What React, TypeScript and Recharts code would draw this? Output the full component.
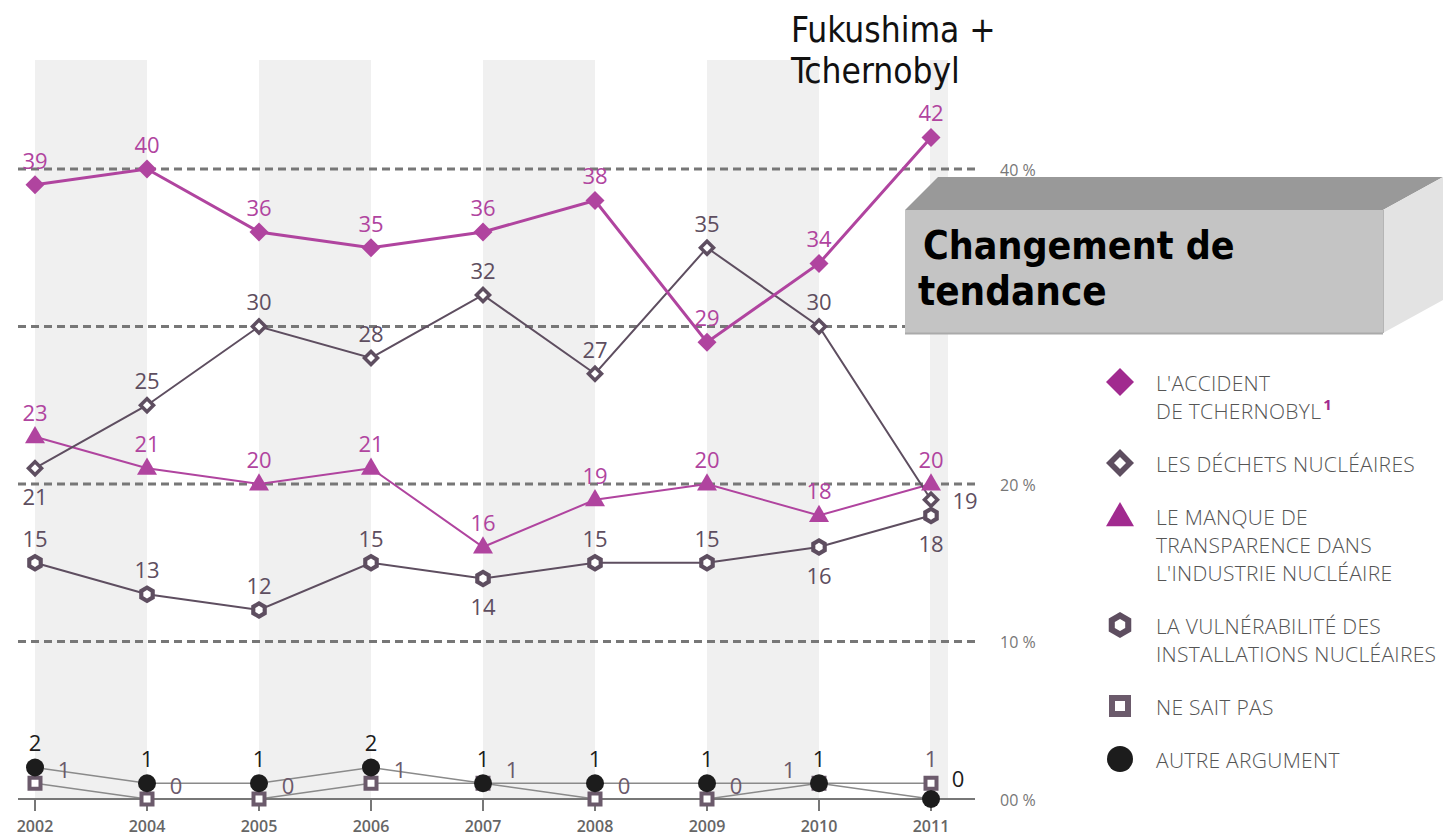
import React from 'react';
import { LineChart, Line, XAxis, YAxis, ReferenceArea, ReferenceLine, LabelList } from 'recharts';

const years = ['2002', '2004', '2005', '2006', '2007', '2008', '2009', '2010', '2011'];
const tchernobyl = [39, 40, 36, 35, 36, 38, 29, 34, 42];
const dechets = [21, 25, 30, 28, 32, 27, 35, 30, 19];
const transparence = [23, 21, 20, 21, 16, 19, 20, 18, 20];
const vulnerabilite = [15, 13, 12, 15, 14, 15, 15, 16, 18];
const neSaitPas = [1, 0, 0, 1, 1, 0, 0, 1, 1];
const autre = [2, 1, 1, 2, 1, 1, 1, 1, 0];
const yTicks = [0, 10, 20, 30, 40];
const gridValues = [10, 20, 30, 40];
const stripes: [string, string][] = [['2002', '2004'], ['2005', '2006'], ['2007', '2008'], ['2009', '2010']];
const lastStripe = '2011';

const legendItems = [
  { key: 'tch', lines: ["L'ACCIDENT", 'DE TCHERNOBYL'], sup: '1' },
  { key: 'dec', lines: ['LES DÉCHETS NUCLÉAIRES'] },
  { key: 'tra', lines: ['LE MANQUE DE', 'TRANSPARENCE DANS', "L'INDUSTRIE NUCLÉAIRE"] },
  { key: 'vul', lines: ['LA VULNÉRABILITÉ DES', 'INSTALLATIONS NUCLÉAIRES'] },
  { key: 'nsp', lines: ['NE SAIT PAS'] },
  { key: 'aut', lines: ['AUTRE ARGUMENT'] },
];

// label placements (named, per point)
const tchPos = ['top', 'top', 'top', 'top', 'top', 'top', 'top', 'top', 'top'];
const decPos = ['bottom', 'top', 'top', 'top', 'top', 'top', 'top', 'top', 'right'];
const traPos = ['top', 'top', 'top', 'top', 'top', 'top', 'top', 'top', 'top'];
const vulPos = ['top', 'top', 'top', 'top', 'bottom', 'top', 'top', 'bottom', 'bottom'];
const nspPos = ['upRight', 'upRight', 'upRight', 'upRight', 'upRight', 'upRight', 'upRight', 'upLeft', 'top'];
const autPos = ['top', 'top', 'top', 'top', 'top', 'top', 'top', 'top', 'upRightHigh'];

const OFFSETS: Record<string, [number, number]> = {
  top: [0, -25],
  bottom: [0, 28],
  right: [34, 0],
  upRight: [29, -14],
  upLeft: [-30, -14],
  upRightHigh: [27, -21],
};

const MAGENTA = '#b0449f';
const LEG_MAGENTA = '#a12a8f';
const PURPLE = '#5e4e60';
const THIN = '#8a8a8a';
const FONT = "'Open Sans', 'DejaVu Sans', sans-serif";
const TITLE_FONT = "'DejaVu Sans Condensed', 'DejaVu Sans', sans-serif";

const data = years.map((year, i) => ({
  year,
  tchernobyl: tchernobyl[i],
  dechets: dechets[i],
  transparence: transparence[i],
  vulnerabilite: vulnerabilite[i],
  neSaitPas: neSaitPas[i],
  autre: autre[i],
}));

const makeLabel = (color: string, placements: string[]) => (props: any) => {
  const { x, y, value, index } = props;
  const off = OFFSETS[placements[index] || 'top'];
  return (
    <text
      key={`l-${index}`}
      x={x + off[0]}
      y={y + off[1]}
      textAnchor="middle"
      dominantBaseline="central"
      fill={color}
      fontSize={22}
      fontFamily={FONT}
    >
      {value}
    </text>
  );
};

const diamondPath = (cx: number, cy: number, r: number) =>
  `M${cx},${cy - r} L${cx + r},${cy} L${cx},${cy + r} L${cx - r},${cy} Z`;
const hexPath = (cx: number, cy: number, r: number) => {
  const pts = [];
  for (let k = 0; k < 6; k++) {
    const a = (Math.PI / 3) * k - Math.PI / 2;
    pts.push(`${cx + r * Math.cos(a)},${cy + r * Math.sin(a)}`);
  }
  return `M${pts.join(' L')} Z`;
};
const triPath = (cx: number, cy: number, s: number) => {
  const h = s * 0.866;
  return `M${cx},${cy - h * 0.62} L${cx + s / 2},${cy + h * 0.38} L${cx - s / 2},${cy + h * 0.38} Z`;
};

const FilledDiamond = (p: any) => <path key={`d-${p.index}`} d={diamondPath(p.cx, p.cy, 9.5)} fill={MAGENTA} />;
const HollowDiamond = (p: any) => (
  <g key={`hd-${p.index}`}>
    <path d={diamondPath(p.cx, p.cy, 9)} fill={PURPLE} />
    <path d={diamondPath(p.cx, p.cy, 4)} fill="#fff" />
  </g>
);
const Triangle = (p: any) => <path key={`t-${p.index}`} d={triPath(p.cx, p.cy, 20)} fill={MAGENTA} />;
const Hexagon = (p: any) => (
  <g key={`h-${p.index}`}>
    <path d={hexPath(p.cx, p.cy, 9)} fill={PURPLE} />
    <path d={hexPath(p.cx, p.cy, 4.2)} fill="#fff" />
  </g>
);
const Square = (p: any) => (
  <g key={`s-${p.index}`}>
    <rect x={p.cx - 7.5} y={p.cy - 7.5} width={15} height={15} fill="#6b5a6b" />
    <rect x={p.cx - 3.5} y={p.cy - 3.5} width={7} height={7} fill="#fff" />
  </g>
);
const Circle = (p: any) => <circle key={`c-${p.index}`} cx={p.cx} cy={p.cy} r={9} fill="#1c1c1c" />;

const XTick = (props: any) => {
  const { x, y, payload } = props;
  return (
    <text x={x} y={y + 19} textAnchor="middle" fill="#666" fontSize={16} fontFamily={FONT} fontWeight={600}>
      {payload.value}
    </text>
  );
};

const YTick = (props: any) => {
  const { x, y, payload } = props;
  const v = payload.value;
  return (
    <text x={x} y={y + 1} dominantBaseline="central" textAnchor="start" fill="#777" fontSize={16} fontFamily={FONT}>
      {v === 0 ? '00 %' : `${v} %`}
    </text>
  );
};

const LegendIcon = ({ k }: { k: string }) => {
  const c = 16;
  let el: React.ReactNode = null;
  if (k === 'tch') el = <path d={diamondPath(c, c, 14)} fill={LEG_MAGENTA} />;
  if (k === 'dec')
    el = (
      <g>
        <path d={diamondPath(c, c, 14)} fill={PURPLE} />
        <path d={diamondPath(c, c, 6)} fill="#fff" />
      </g>
    );
  if (k === 'tra') el = <path d={triPath(c, c + 1, 28)} fill={LEG_MAGENTA} />;
  if (k === 'vul')
    el = (
      <g>
        <path d={hexPath(c, c, 13)} fill={PURPLE} />
        <path d={hexPath(c, c, 6)} fill="#fff" />
      </g>
    );
  if (k === 'nsp')
    el = (
      <g>
        <rect x={c - 11} y={c - 11} width={22} height={22} fill="#6b5a6b" />
        <rect x={c - 5} y={c - 5} width={10} height={10} fill="#fff" />
      </g>
    );
  if (k === 'aut') el = <circle cx={c} cy={c} r={13} fill="#1c1c1c" />;
  return (
    <svg width={32} height={32} style={{ position: 'absolute', left: -52, top: -3 }}>
      {el}
    </svg>
  );
};

const LastStripe = (p: any) => (
  <rect x={p.x - 1} y={p.y} width={18} height={p.height} fill="#f0f0f0" />
);

export default function App() {
  return (
    <div style={{ position: 'absolute', left: 0, top: 0, width: 1443, height: 838, background: '#fff', overflow: 'hidden' }}>
      <LineChart width={1443} height={838} data={data} margin={{ top: 60, right: 398, bottom: 9, left: 18 }}>
        {stripes.map(([a, b]) => (
          <ReferenceArea key={a} x1={a} x2={b} fill="#f0f0f0" fillOpacity={1} stroke="none" ifOverflow="visible" />
        ))}
        <ReferenceArea x1={lastStripe} fill="#f0f0f0" fillOpacity={1} stroke="none" shape={LastStripe} ifOverflow="visible" />
        {gridValues.map((v) => (
          <ReferenceLine key={v} y={v} stroke="#777" strokeWidth={3} strokeDasharray="8 5" />
        ))}
        <XAxis
          dataKey="year"
          padding={{ left: 17, right: 44 }}
          tickSize={12}
          tickLine={{ stroke: '#777', strokeWidth: 2 }}
          axisLine={{ stroke: '#777', strokeWidth: 2 }}
          tick={<XTick />}
          height={30}
          interval={0}
        />
        <YAxis
          orientation="right"
          domain={[0, 46.92]}
          ticks={yTicks}
          width={70}
          axisLine={false}
          tickLine={false}
          tickSize={0}
          tickMargin={25}
          tick={<YTick />}
        />
        <Line dataKey="neSaitPas" stroke={THIN} strokeWidth={1.5} dot={Square} activeDot={false} isAnimationActive={false}>
          <LabelList dataKey="neSaitPas" content={makeLabel('#6b5a6b', nspPos)} />
        </Line>
        <Line dataKey="autre" stroke={THIN} strokeWidth={1.5} dot={Circle} activeDot={false} isAnimationActive={false}>
          <LabelList dataKey="autre" content={makeLabel('#1c1c1c', autPos)} />
        </Line>
        <Line dataKey="vulnerabilite" stroke={PURPLE} strokeWidth={2} dot={Hexagon} activeDot={false} isAnimationActive={false}>
          <LabelList dataKey="vulnerabilite" content={makeLabel(PURPLE, vulPos)} />
        </Line>
        <Line dataKey="transparence" stroke={MAGENTA} strokeWidth={2} dot={Triangle} activeDot={false} isAnimationActive={false}>
          <LabelList dataKey="transparence" content={makeLabel(MAGENTA, traPos)} />
        </Line>
        <Line dataKey="dechets" stroke={PURPLE} strokeWidth={2} dot={HollowDiamond} activeDot={false} isAnimationActive={false}>
          <LabelList dataKey="dechets" content={makeLabel(PURPLE, decPos)} />
        </Line>
        <Line dataKey="tchernobyl" stroke={MAGENTA} strokeWidth={3} dot={FilledDiamond} activeDot={false} isAnimationActive={false}>
          <LabelList dataKey="tchernobyl" content={makeLabel(MAGENTA, tchPos)} />
        </Line>
      </LineChart>

      {/* annotation */}
      <div
        style={{
          position: 'absolute',
          left: 791,
          top: 10,
          fontFamily: TITLE_FONT,
          fontStretch: 'condensed',
          fontSize: 35,
          lineHeight: '41px',
          color: '#111',
          whiteSpace: 'nowrap',
        }}
      >
        Fukushima +<br />Tchernobyl
      </div>

      {/* 3D box */}
      <svg width={540} height={162} style={{ position: 'absolute', left: 903, top: 175 }}>
        <polygon points="2,35 35,2 540,2 540,2 480,35" fill="#999" />
        <polygon points="480,35 540,2 540,125 480,158" fill="#e3e3e3" />
        <rect x={2} y={35} width={478} height={123} fill="#c4c4c4" />
        <line x1={2} y1={158.5} x2={480} y2={158.5} stroke="#aaa" strokeWidth={2} />
        <line x1={480.5} y1={35} x2={480.5} y2={158} stroke="#b5b5b5" strokeWidth={1} />
        <text x={20} y={84} fontFamily={TITLE_FONT} fontWeight="bold" fontSize={39} fill="#000" style={{ fontStretch: 'condensed' } as any}>
          Changement de
        </text>
        <text x={15} y={130} fontFamily={TITLE_FONT} fontWeight="bold" fontSize={40} fill="#000" style={{ fontStretch: 'condensed' } as any}>
          tendance
        </text>
      </svg>

      {/* legend */}
      <div
        style={{
          position: 'absolute',
          left: 1156,
          top: 369,
          display: 'flex',
          flexDirection: 'column',
          gap: 25,
          fontFamily: FONT,
          fontSize: 21,
          fontWeight: 300,
          letterSpacing: 0.3,
          lineHeight: '28px',
          color: '#555',
          whiteSpace: 'nowrap',
        }}
      >
        {legendItems.map((it) => (
          <div key={it.key} style={{ position: 'relative' }}>
            <LegendIcon k={it.key} />
            {it.lines.map((l, i) => (
              <div key={i} style={{ height: 28 }}>
                {l}
                {it.sup && i === it.lines.length - 1 ? (
                  <span
                    style={{
                      color: LEG_MAGENTA,
                      fontWeight: 700,
                      fontSize: 15,
                      position: 'relative',
                      top: -9,
                      marginLeft: 2,
                      lineHeight: 0,
                    }}
                  >
                    {it.sup}
                  </span>
                ) : null}
              </div>
            ))}
          </div>
        ))}
      </div>
    </div>
  );
}
